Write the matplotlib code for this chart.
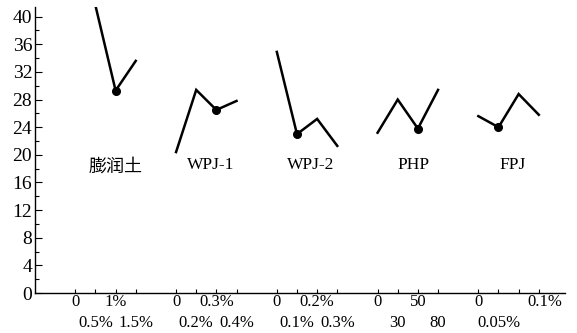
import numpy as np
import matplotlib.pyplot as plt
from matplotlib.ticker import MultipleLocator

# data
groups = ["膨润土", "WPJ-1", "WPJ-2", "PHP", "FPJ"]
bent_y = [41.6, 29.3, 33.6]          # at 0.5%, 1%, 1.5%
wpj1_y = [20.4, 29.4, 26.5, 27.8]
wpj2_y = [34.9, 23.0, 25.2, 21.3]
php_y = [23.2, 28.0, 23.8, 29.4]
fpj_y = [25.6, 24.0, 28.8, 25.8]
best_idx = [1, 2, 1, 2, 1]           # dots (index within each series)

top_labels = [["0", "1%"], ["0", "0.3%"], ["0", "0.2%"], ["0", "50"], ["0", "0.1%"]]
bot_labels = [["0.5%", "1.5%"], ["0.2%", "0.4%"], ["0.1%", "0.3%"], ["30", "80"], ["0.05%"]]

series = [bent_y, wpj1_y, wpj2_y, php_y, fpj_y]
starts = [0, 5, 10, 15, 20]

fig = plt.figure(figsize=(5.77, 3.33), dpi=100)
ax = fig.add_axes([35 / 577, 40 / 333, 530 / 577, 286 / 333])

serif = "Liberation Serif"
cjk = ["Noto Sans CJK SC", "DejaVu Sans"]

for g, (s0, ys) in enumerate(zip(starts, series)):
    if len(ys) == 3:
        xs = np.arange(1, 4) + s0
    else:
        xs = np.arange(4) + s0
    ax.plot(xs, ys, color="black", lw=1.8, solid_joinstyle="miter")
    bi = best_idx[g]
    ax.plot(xs[bi], ys[bi], "o", color="black", ms=5.5)

# group names
name_x = [2.0, 6.7, 11.7, 16.8, 21.7]
for nm, nx in zip(groups, name_x):
    if nm == groups[0]:
        ax.text(nx, 18.3, nm, ha="center", va="center", fontsize=13, family=cjk)
    else:
        ax.text(nx, 18.5, nm, ha="center", va="center", fontsize=12.5, family=serif)

# x tick labels in two staggered rows
xt = ax.get_xaxis_transform()
for s0, tl, bl in zip(starts, top_labels, bot_labels):
    top_pos = [s0, s0 + 2]
    bot_pos = [s0 + 1, s0 + 3]
    if s0 == 20:
        top_pos = [s0, s0 + 3.3]
    for t, p in zip(tl, top_pos):
        ax.text(p, -0.032, t, transform=xt, ha="center", va="center",
                fontsize=12, family=serif)
    for t, p in zip(bl, bot_pos):
        ax.text(p, -0.105, t, transform=xt, ha="center", va="center",
                fontsize=12, family=serif)

ax.set_xlim(-2, 24.3)
ax.set_ylim(0, 41.4)
tick_x = [s + i for s in starts for i in range(4)]
ax.set_xticks(tick_x)
ax.set_xticklabels([])
ax.tick_params(axis="x", direction="in", length=3, width=0.8)

ax.yaxis.set_major_locator(MultipleLocator(4))
ax.yaxis.set_minor_locator(MultipleLocator(2))
ax.tick_params(axis="y", which="major", direction="in", length=5, width=0.8,
               labelsize=14, pad=2)
ax.tick_params(axis="y", which="minor", direction="in", length=3, width=0.8)
for lab in ax.get_yticklabels():
    lab.set_family(serif)

ax.spines["top"].set_visible(False)
ax.spines["right"].set_visible(False)
ax.spines["left"].set_linewidth(1.0)
ax.spines["bottom"].set_linewidth(1.0)

fig.savefig("out.png", dpi=100)
